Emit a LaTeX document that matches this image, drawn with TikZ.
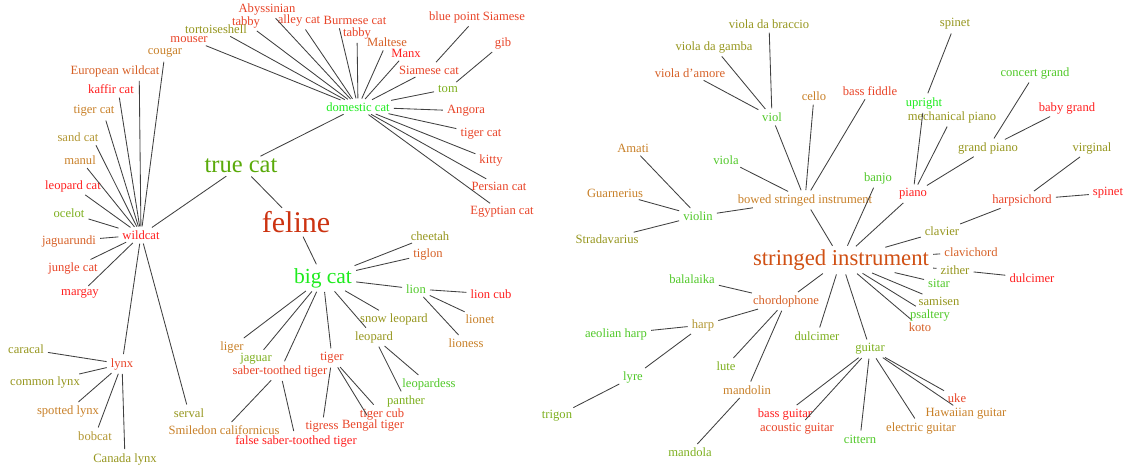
\documentclass[tikz,border=0pt]{standalone}
\usepackage{fontspec}
\setmainfont{Liberation Serif}
\usepackage{xcolor}
\definecolor{cRed}{RGB}{255,30,30}
\definecolor{cOrRed}{RGB}{232,68,40}
\definecolor{cOrange}{RGB}{214,96,38}
\definecolor{cBrown}{RGB}{200,128,40}
\definecolor{cKhaki}{RGB}{178,150,50}
\definecolor{cOlive}{RGB}{150,150,30}
\definecolor{cYGreen}{RGB}{125,175,30}
\definecolor{cGreen}{RGB}{80,200,40}
\definecolor{cBright}{RGB}{30,235,30}
\definecolor{felinec}{RGB}{204,51,17}
\definecolor{truecatc}{RGB}{90,170,10}
\definecolor{stringedc}{RGB}{208,80,20}

\begin{document}
\begin{tikzpicture}[x=1pt, y=-1pt,
  lbl/.style={font=\fontsize{12.6}{14}\selectfont, inner sep=1.5pt},
  link/.style={draw=black!75, line width=0.85pt, shorten <=2.5pt, shorten >=2.5pt}]
  \useasboundingbox (0,0) rectangle (1133,468);
  % hubs
  \node[lbl, font=\fontsize{30}{32}\selectfont, text=felinec] (feline) at (296,222) {feline};
  \node[lbl, font=\fontsize{24.5}{26}\selectfont, text=truecatc] (truecat) at (241,166) {true cat};
  \node[lbl, font=\fontsize{21.5}{23}\selectfont, text=cBright] (bigcat) at (323,278) {big cat};
  \node[lbl, font=\fontsize{22.7}{24}\selectfont, text=stringedc] (stringed) at (841,260) {stringed instrument};
  % cats
  \foreach \n/\x/\y/\c/\t in {domcat/358/107/cBright/domestic cat, wildcat/141/235/cRed/wildcat,
    abyssinian/267/9/cOrRed/Abyssinian, tabbyA/246/22/cOrRed/tabby, alleycat/299/20/cOrRed/alley cat,
    tortoise/216/29/cOlive/tortoiseshell, mouser/189/40/cOrRed/mouser, burmese/355/20/cOrRed/Burmese cat,
    tabbyB/357/33/cOrRed/tabby, maltese/387/42/cOrange/Maltese, manx/406/53/cRed/Manx,
    siamese/429/70/cOrRed/Siamese cat, bluepoint/477/17/cOrRed/blue point Siamese, gib/503/43/cOrRed/gib,
    tom/448/89/cYGreen/tom, angora/466/111/cOrRed/Angora, tigercatB/481/134/cOrRed/tiger cat,
    kitty/491/160/cOrRed/kitty, persian/499/186/cOrRed/Persian cat, egyptian/502/212/cOrRed/Egyptian cat,
    cougar/165/53/cBrown/cougar, eurowild/115/71/cOrange/European wildcat, kaffir/111/89/cRed/kaffir cat,
    tigercatA/94/111/cBrown/tiger cat, sandcat/78/137/cKhaki/sand cat, manul/80/160/cBrown/manul,
    leopardcat/73/186/cRed/leopard cat, ocelot/69/213/cYGreen/ocelot, jaguarundi/69/241/cOrange/jaguarundi,
    junglecat/73/268/cOrRed/jungle cat, margay/80/294/cRed/margay, lynx/122/364/cOrRed/lynx,
    serval/189/413/cOlive/serval, caracal/26/349/cOlive/caracal, commonlynx/45/382/cOlive/common lynx,
    spotted/68/411/cBrown/spotted lynx, bobcat/95/436/cKhaki/bobcat, canada/125/459/cOlive/Canada lynx,
    cheetah/430/236/cOlive/cheetah, tiglon/428/254/cOrange/tiglon, lion/416/289/cGreen/lion,
    snowleo/394/319/cOlive/snow leopard, leopard/374/337/cOlive/leopard, liger/232/347/cBrown/liger,
    jaguar/256/359/cYGreen/jaguar, sabertooth/280/371/cOrRed/saber-toothed tiger, tiger/332/358/cOrRed/tiger,
    lioncub/491/294/cRed/lion cub, lionet/480/319/cBrown/lionet, lioness/466/343/cBrown/lioness,
    leopardess/429/384/cGreen/leopardess, panther/406/401/cYGreen/panther,
    tigercub/382/414/cOrRed/tiger cub, bengal/373/425/cOrRed/Bengal tiger, tigress/322/427/cOrRed/tigress,
    smiledon/224/430/cBrown/Smiledon californicus, falsesaber/296/441/cRed/false saber-toothed tiger} {
    \node[lbl, text=\c] (\n) at (\x,\y) {\t};
  }
  % instruments
  \foreach \n/\x/\y/\c/\t in {bowed/805/200/cBrown/bowed stringed instrument, viol/772/117/cGreen/viol,
    braccio/769/24/cOlive/viola da braccio, gamba/714/47/cOlive/viola da gamba, amore/690/73/cOrange/viola d'amore,
    cello/814/96/cBrown/cello, bassfiddle/870/91/cOrRed/bass fiddle, viola/726/160/cGreen/viola,
    violin/698/216/cGreen/violin, amati/633/148/cBrown/Amati, guarnerius/615/193/cBrown/Guarnerius,
    stradavarius/607/239/cOlive/Stradavarius, banjo/878/178/cGreen/banjo, piano/913/194/cRed/piano,
    upright/924/103/cBright/upright, spinetA/955/24/cOlive/spinet, mechpiano/952/117/cOlive/mechanical piano,
    grandpiano/988/148/cOlive/grand piano, concert/1035/73/cGreen/concert grand, babygrand/1067/108/cRed/baby grand,
    clavier/942/231/cOlive/clavier, harpsichord/1022/200/cOrRed/harpsichord, virginal/1092/148/cOlive/virginal,
    spinetB/1108/193/cRed/spinet, clavichord/971/252/cOrange/clavichord, zither/955/270/cOlive/zither,
    dulcimerB/1032/278/cRed/dulcimer, sitar/939/283/cGreen/sitar, samisen/939/301/cOlive/samisen,
    psaltery/930/315/cGreen/psaltery, koto/920/327/cOrange/koto, chordophone/786/301/cOrange/chordophone,
    balalaika/692/279/cGreen/balalaika, harp/703/325/cKhaki/harp, aeolian/616/334/cGreen/aeolian harp,
    lyre/633/377/cGreen/lyre, trigon/557/416/cYGreen/trigon, lute/726/366/cYGreen/lute,
    mandolin/747/390/cBrown/mandolin, mandola/690/452/cYGreen/mandola, dulcimerA/817/336/cYGreen/dulcimer,
    guitar/870/349/cYGreen/guitar, bassguitar/785/414/cRed/bass guitar, acoustic/797/429/cOrRed/acoustic guitar,
    cittern/860/439/cGreen/cittern, electric/921/428/cBrown/electric guitar,
    hawaiian/966/414/cBrown/Hawaiian guitar, uke/957/398/cOrRed/uke} {
    \node[lbl, text=\c] (\n) at (\x,\y) {\t};
  }
  % links (some children are met at a border angle)
  \foreach \a/\b in {feline/truecat, feline/bigcat, truecat/domcat, truecat/wildcat,
    domcat/abyssinian, domcat/tabbyA.-40, domcat/alleycat, domcat/tortoise.-27, domcat/mouser.-18,
    domcat/burmese.-160, domcat/tabbyB, domcat/maltese, domcat/manx, domcat/siamese, siamese/bluepoint,
    tom/gib, domcat/tom, domcat/angora, domcat/tigercatB, domcat/kitty, domcat/persian, domcat/egyptian,
    wildcat/cougar, wildcat/eurowild.-17, wildcat/kaffir.-38, wildcat/tigercatA.-33, wildcat/sandcat.-20,
    wildcat/manul.-48, wildcat/leopardcat.-36, wildcat/ocelot, wildcat/jaguarundi, wildcat/junglecat,
    wildcat/margay, wildcat/lynx, wildcat/serval, lynx/caracal, lynx/commonlynx, lynx/spotted,
    lynx/bobcat, lynx/canada, bigcat/cheetah, bigcat/tiglon, bigcat/lion, bigcat/snowleo,
    bigcat/leopard, bigcat/liger, bigcat/jaguar, bigcat/sabertooth, bigcat/tiger, lion/lioncub,
    lion/lionet, lion/lioness, leopard/leopardess, leopard/panther, tiger/tigercub, tiger/bengal,
    tiger/tigress, sabertooth/smiledon, sabertooth/falsesaber} {
    \draw[link] (\a) -- (\b);
  }
  \foreach \a/\b in {stringed/bowed, stringed/banjo, stringed/piano, stringed/clavier, stringed/clavichord,
    stringed/zither, stringed/sitar, stringed/samisen, stringed/psaltery, stringed/koto, stringed/guitar,
    stringed/dulcimerA, stringed/chordophone, bowed/viol, bowed/viola, bowed/cello, bowed/bassfiddle,
    bowed/violin, viol/braccio, viol/gamba, viol/amore, violin/amati, violin/guarnerius,
    violin/stradavarius, piano/upright, piano/mechpiano, piano/grandpiano, upright/spinetA,
    grandpiano/concert, grandpiano/babygrand, clavier/harpsichord, harpsichord/virginal,
    harpsichord/spinetB, zither/dulcimerB, chordophone/balalaika, chordophone/harp, chordophone/lute,
    chordophone/mandolin, harp/aeolian, harp/lyre, lyre/trigon, mandolin/mandola,
    guitar/bassguitar, guitar/acoustic, guitar/cittern, guitar/electric, guitar/hawaiian, guitar/uke} {
    \draw[link] (\a) -- (\b);
  }
\end{tikzpicture}
\end{document}
